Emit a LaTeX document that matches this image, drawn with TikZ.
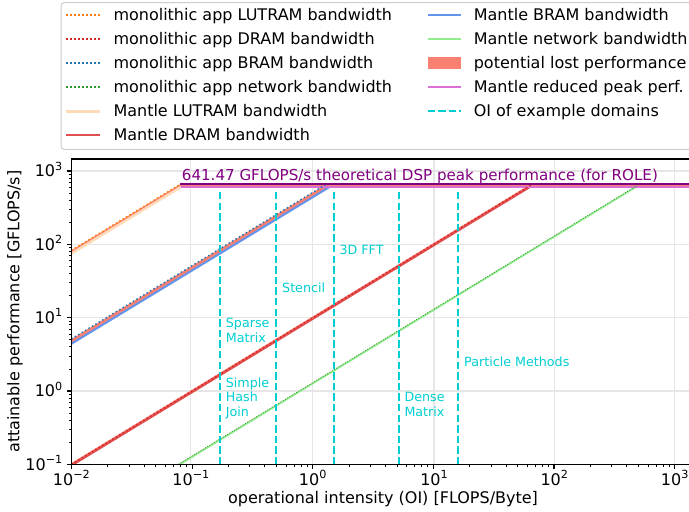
\documentclass[tikz,border=0pt]{standalone}
\usepackage{fontspec}
\setmainfont{DejaVu Sans}

% palette
\definecolor{lutmono}{HTML}{FF7F0E}
\definecolor{drammono}{HTML}{D62728}
\definecolor{brammono}{HTML}{1F77B4}
\definecolor{netmono}{HTML}{2CA02C}
\definecolor{lutmantle}{HTML}{FFDAB9}
\definecolor{drammantle}{HTML}{E05050}
\definecolor{brammantle}{HTML}{6495ED}
\definecolor{netmantle}{HTML}{90EE90}
\definecolor{lostperf}{HTML}{FA8072}
\definecolor{reducedpeak}{HTML}{DA70D6}
\definecolor{oicol}{HTML}{00CED1}
\definecolor{peakcol}{HTML}{800080}
\definecolor{gridcol}{HTML}{E6E6E6}
\definecolor{legframe}{HTML}{CCCCCC}

\tikzset{
  monoline/.style={line width=1.5pt, dash pattern=on 1.5pt off 2.5pt},
  mantleline/.style={line width=2pt},
  oiline/.style={oicol, line width=2pt, dash pattern=on 7.4pt off 3.2pt},
  gridline/.style={gridcol, line width=1.1pt},
  majortick/.style={line width=1.1pt},
  minortick/.style={line width=0.8pt},
  legtext/.style={anchor=base west, inner sep=0pt, font=\fontsize{16}{19}\selectfont},
  ticklab/.style={inner sep=0pt, font=\fontsize{16}{19}\selectfont},
  axlab/.style={inner sep=0pt, font=\fontsize{16}{19}\selectfont},
  oilab/.style={anchor=base west, inner sep=0pt, text=oicol, font=\fontsize{12.7}{15}\selectfont},
}
\newcommand\tenpow[1]{10\raisebox{0.42em}{\fontsize{11.2}{13}\selectfont #1}}

\begin{document}
\begin{tikzpicture}[x=1pt, y=-1pt]
\useasboundingbox (0,0) rectangle (689,512);

% ---------- legend ----------
\draw[legframe, line width=1pt, rounded corners=3pt, fill=white] (61,2.7) rectangle (730,149.3);
% left column
\draw[monoline, lutmono]   (66,15)  -- (100,15);
\node[legtext] (l1) at (113.3,20.7) {monolithic app LUTRAM bandwidth};
\draw[monoline, drammono]  (66,39)  -- (100,39);
\node[legtext] (l2) at (113.3,44.7) {monolithic app DRAM bandwidth};
\draw[monoline, brammono]  (66,63)  -- (100,63);
\node[legtext] (l3) at (113.3,68.7) {monolithic app BRAM bandwidth};
\draw[monoline, netmono]   (66,87)  -- (100,87);
\node[legtext] (l4) at (113.3,92.7) {monolithic app network bandwidth};
\draw[line width=3pt, lutmantle] (66,111) -- (100,111);
\node[legtext] (l5) at (113.3,116.7) {Mantle LUTRAM bandwidth};
\draw[mantleline, drammantle] (66,134.7) -- (100,134.7);
\node[legtext] (l6) at (113.3,140.4) {Mantle DRAM bandwidth};
% right column
\draw[mantleline, brammantle] (427.5,15) -- (461,15);
\node[legtext] (r1) at (473.6,20.7) {Mantle BRAM bandwidth};
\draw[mantleline, netmantle] (427.5,39) -- (461,39);
\node[legtext] (r2) at (473.6,44.7) {Mantle network bandwidth};
\fill[lostperf] (427.5,57.4) rectangle (461,68.6);
\node[legtext] (r3) at (473.6,68.7) {potential lost performance};
\draw[mantleline, reducedpeak] (427.5,87) -- (461,87);
\node[legtext] (r4) at (473.6,92.7) {Mantle reduced peak perf.};
\draw[oiline] (427.5,111) -- (461,111);
\node[legtext] (r5) at (473.6,116.7) {OI of example domains};

% ---------- plot area ----------
\begin{scope}
\clip (71.4,159) rectangle (694,464.3);
% grid
\foreach \gx in {190.9, 312.7, 434.0, 554.3, 674.7}
  \draw[gridline] (\gx,159) -- (\gx,464.3);
\foreach \gy in {391.0, 317.7, 244.3, 171.0}
  \draw[gridline] (71.4,\gy) -- (694,\gy);

% lost-performance bands between monolithic and Mantle roofs
\fill[lostperf] (71.4,250.4) -- (180,184.4) -- (694,184.4) -- (694,187) -- (180.9,187) -- (71.4,253.5) -- cycle;
\fill[lostperf] (71.4,339.0) -- (326.0,184.4) -- (329.5,187) -- (71.4,343.8) -- cycle;
\fill[lostperf] (71.4,463.0) -- (532.1,183.2) -- (529.5,188.2) -- (71.4,466.6) -- cycle;
\fill[lostperf] (178.4,464.3) -- (639.1,184.4) -- (636,187) -- (180,464.3) -- cycle;

% Mantle rooflines
\draw[line width=2.5pt, lutmantle] (71.4,253.5) -- (180.9,187);
\draw[mantleline, brammantle] (71.4,343.8) -- (329.5,187);
\draw[line width=2.2pt, drammantle] (69.8,466.3) -- (529.5,187);
\draw[line width=1.6pt, netmantle] (180,464.3) -- (636,187);
\draw[line width=2.5pt, reducedpeak] (180.9,187.2) -- (694,187.2);

% monolithic rooflines
\draw[monoline, lutmono] (71.4,250.4) -- (180,184.4);
\draw[monoline, brammono] (71.4,339.0) -- (326.0,184.4);
\draw[monoline, drammono] (71.4,464.3) -- (532.1,184.4);
\draw[line width=0.8pt, dash pattern=on 1pt off 1.6pt, netmono] (178.4,464.3) -- (639.1,184.4);

% theoretical peak
\draw[line width=2pt, peakcol] (180,184.3) -- (694,184.3);

% example domains
\foreach \ox in {219.7, 276.3, 333.7, 399.3, 458.3}
  \draw[oiline] (\ox,464.3) -- (\ox,189.3);
\end{scope}

\node[anchor=base west, inner sep=0pt, text=peakcol, font=\fontsize{15.1}{18}\selectfont] (peak) at (181.7,180.5)
  {641.47 GFLOPS/s theoretical DSP peak performance (for ROLE)};

\node[oilab] (sp1) at (225.7,327.8) {Sparse};
\node[oilab] (sp2) at (225.7,342.6) {Matrix};
\node[oilab] (hj1) at (225.7,387.2) {Simple};
\node[oilab] (hj2) at (225.7,401.6) {Hash};
\node[oilab] (hj3) at (225.7,416.0) {Join};
\node[oilab] (st)  at (282.0,292.6) {Stencil};
\node[oilab] (fft) at (339.3,254.5) {3D FFT};
\node[oilab] (dm1) at (404.3,401.8) {Dense};
\node[oilab] (dm2) at (404.3,416.0) {Matrix};
\node[oilab] (pm)  at (464.0,366.2) {Particle Methods};

% ---------- axes ----------
\draw[line width=1.1pt] (694,159) -- (71.4,159) -- (71.4,464.3) -- (694,464.3);
% x ticks
\foreach \d in {-2,...,3} {
  \pgfmathsetmacro\tx{71.4+(\d+2)*120.66}
  \draw[majortick] (\tx,464.3) -- (\tx,469.2);
  \foreach \k in {2,...,9} {
    \pgfmathsetmacro\mx{71.4+(\d+2+log10(\k))*120.66}
    \pgfmathparse{\mx<694 ? 1 : 0}
    \ifnum\pgfmathresult=1 \draw[minortick] (\mx,464.3) -- (\mx,467.1); \fi
  }
}
% y ticks
\foreach \d in {-1,...,3} {
  \pgfmathsetmacro\ty{464.3-(\d+1)*73.33}
  \draw[majortick] (71.4,\ty) -- (66.5,\ty);
}
\foreach \d in {-1,...,2} {
  \foreach \k in {2,...,9} {
    \pgfmathsetmacro\my{464.3-(\d+1+log10(\k))*73.33}
    \draw[minortick] (71.4,\my) -- (68.6,\my);
  }
}
% tick labels
\node[ticklab, anchor=base] (xt1) at (71.4,485)  {\tenpow{−2}};
\node[ticklab, anchor=base] (xt2) at (190.9,485) {\tenpow{−1}};
\node[ticklab, anchor=base] (xt3) at (312.7,485) {\tenpow{0}};
\node[ticklab, anchor=base] (xt4) at (434.0,485) {\tenpow{1}};
\node[ticklab, anchor=base] (xt5) at (554.3,485) {\tenpow{2}};
\node[ticklab, anchor=base] (xt6) at (674.7,485) {\tenpow{3}};
\node[ticklab, anchor=base east] (yt1) at (62.5,470.1) {\tenpow{−1}};
\node[ticklab, anchor=base east] (yt2) at (62.5,396.8) {\tenpow{0}};
\node[ticklab, anchor=base east] (yt3) at (62.5,323.5) {\tenpow{1}};
\node[ticklab, anchor=base east] (yt4) at (62.5,250.1) {\tenpow{2}};
\node[ticklab, anchor=base east] (yt5) at (62.5,176.8) {\tenpow{3}};

% axis labels
\node[axlab, anchor=base] (xlab) at (383,503.3) {operational intensity (OI) [FLOPS/Byte]};
\node[axlab, anchor=base, rotate=90] (ylab) at (19.5,311.7) {attainable performance [GFLOPS/s]};
\end{tikzpicture}
\end{document}
